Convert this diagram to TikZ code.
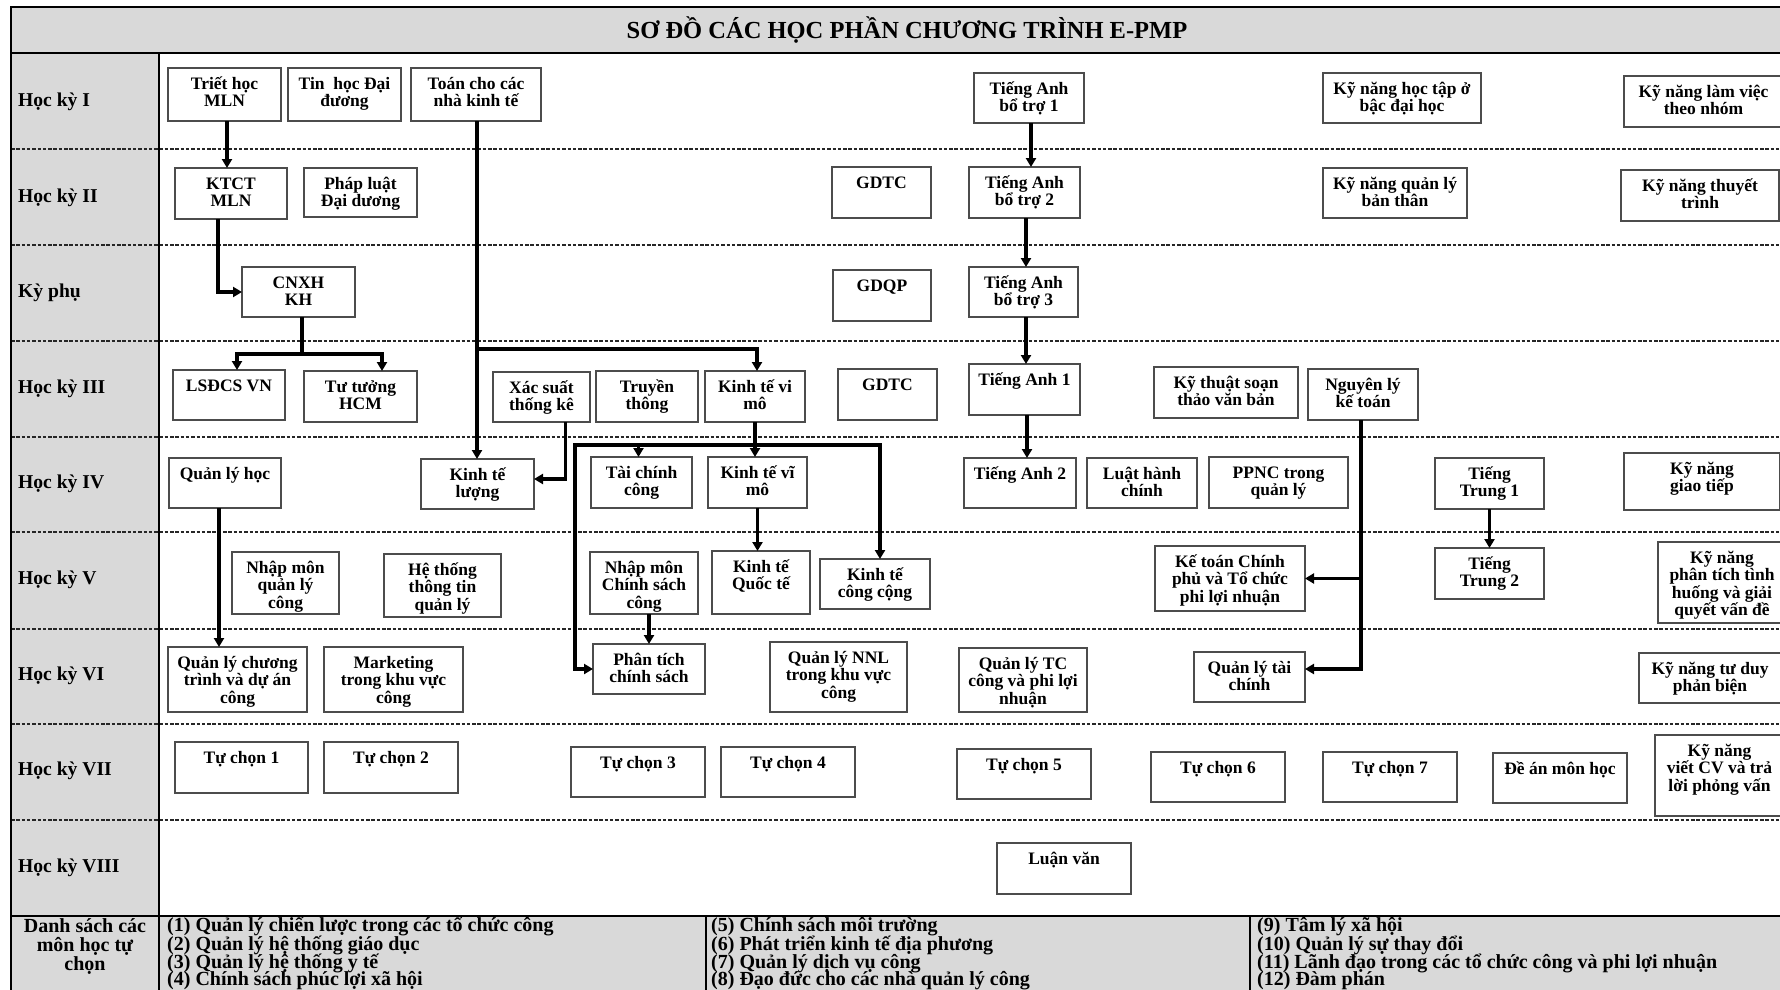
\documentclass[tikz,border=0pt]{standalone}
\usepackage{fontspec}
\setmainfont{Liberation Serif}
\usetikzlibrary{arrows.meta,calc}
\definecolor{bandgray}{RGB}{217,217,217}
\newcommand\boxfont{\fontsize{17.5}{17.5}\selectfont\bfseries\lineskiplimit=-50pt}
\newcommand\lblfont{\fontsize{19.6}{20}\selectfont\bfseries}
\newcommand\footfont{\fontsize{20}{19}\selectfont\bfseries}
\newcommand\titlefont{\fontsize{24.5}{26}\selectfont\bfseries}
\tikzset{
 cbx/.style={draw=black!70, line width=1.1pt, fill=white, inner sep=0pt, outer sep=0pt},
 ctxt/.style={inner sep=0pt, align=center, font=\boxfont},
 conn/.style={line width=3.2pt, draw=black},
 arr/.style={conn, -{Triangle[length=9pt,width=10pt]}},
 rowsep/.style={line width=1.2pt, draw=black!85, dash pattern=on 3.5pt off 1.8pt},
 rowlbl/.style={inner sep=0pt, anchor=base west, font=\lblfont},
 foot/.style={inner sep=0pt, anchor=base west, font=\footfont},
 footc/.style={inner sep=0pt, anchor=base, font=\footfont},
 frame/.style={line width=2.4pt, draw=black},
}
\newcommand\cbox[6]{%
 \node[cbx, anchor=north west, minimum width={(#4-#2)*1pt}, minimum height={(#5-#3)*1pt}] (#1) at (#2,#3) {};
 \node[ctxt, anchor=north] at ([yshift=-3pt]#1.north) {\rule{0pt}{18pt}#6};
}
\begin{document}
\begin{tikzpicture}[x=1pt,y=-1pt]
\useasboundingbox (0,0) rectangle (1780,990);
\clip (0,0) rectangle (1780,990);
% backgrounds
\fill[white] (0,0) rectangle (1780,990);
\fill[bandgray] (11,7) rectangle (1800,53);
\fill[bandgray] (11,53) rectangle (159,916);
\fill[bandgray] (11,916) rectangle (1800,1000);
% row separators
\foreach \yy in {149,245,341,437,532,629,724,820}
  \draw[rowsep] (11,\yy) -- (1800,\yy);
% frame
\draw[frame] (11,1000) -- (11,7) -- (1800,7);
\draw[frame, line width=2pt] (11,53) -- (1800,53);
\draw[frame, line width=2pt] (159,53) -- (159,1000);
\draw[frame, line width=2pt] (11,916) -- (1800,916);
\draw[frame, line width=1.6pt] (706,916) -- (706,1000);
\draw[frame, line width=1.6pt] (1250,916) -- (1250,1000);
% title
\node[font=\titlefont, anchor=base, inner sep=0pt] (title) at (907,39) {SƠ ĐỒ CÁC HỌC PHẦN CHƯƠNG TRÌNH E-PMP};
% row labels
\node[rowlbl] (r1) at (18,106) {Học kỳ I};
\node[rowlbl] (r2) at (18,202) {Học kỳ II};
\node[rowlbl] (r3) at (18,297) {Kỳ phụ};
\node[rowlbl] (r4) at (18,393) {Học kỳ III};
\node[rowlbl] (r5) at (18,488) {Học kỳ IV};
\node[rowlbl] (r6) at (18,584) {Học kỳ V};
\node[rowlbl] (r7) at (18,680) {Học kỳ VI};
\node[rowlbl] (r8) at (18,775) {Học kỳ VII};
\node[rowlbl] (r9) at (18,872) {Học kỳ VIII};
% footer
\node[footc] (fl1) at (85,932) {Danh sách các};
\node[footc] (fl2) at (85,951) {môn học tự};
\node[footc] (fl3) at (85,970) {chọn};
\node[foot] (f1) at (167,931.5) {(1) Quản lý chiến lược trong các tổ chức công};
\node[foot] (f2) at (167,950) {(2) Quản lý hệ thống giáo dục};
\node[foot] (f3) at (167,968.5) {(3) Quản lý hệ thống y tế};
\node[foot] (f4) at (167,985.5) {(4) Chính sách phúc lợi xã hội};
\node[foot] (f5) at (711,931.5) {(5) Chính sách môi trường};
\node[foot] (f6) at (711,950) {(6) Phát triển kinh tế địa phương};
\node[foot] (f7) at (711,968.5) {(7) Quản lý dịch vụ công};
\node[foot] (f8) at (711,985.5) {(8) Đạo đức cho các nhà quản lý công};
\node[foot] (f9) at (1257,931.5) {(9) Tâm lý xã hội};
\node[foot] (f10) at (1257,950) {(10) Quản lý sự thay đổi};
\node[foot] (f11) at (1257,968.5) {(11) Lãnh đạo trong các tổ chức công và phi lợi nhuận};
\node[foot] (f12) at (1257,985.5) {(12) Đàm phán};
% Row I
\cbox{triet}{168}{68}{281}{121}{Triết học\\MLN}
\cbox{tinhoc}{288}{68}{401}{121}{Tin~ học Đại\\đương}
\cbox{toan}{411}{68}{541}{121}{Toán cho các\\nhà kinh tế}
\cbox{tabt1}{974}{73}{1084}{123}{Tiếng Anh\\bổ trợ 1}
\cbox{kn1}{1323}{73}{1481}{123}{Kỹ năng học tập ở\\bậc đại học}
\cbox{kn2}{1624}{76}{1783}{127}{Kỹ năng làm việc\\theo nhóm}
% Row II
\cbox{ktct}{175}{168}{287}{219}{KTCT\\MLN}
\cbox{phapluat}{304}{168}{417}{217}{Pháp luật\\Đại dương}
\cbox{gdtc1}{832}{167}{931}{218}{GDTC}
\cbox{tabt2}{969}{167}{1080}{218}{Tiếng Anh\\bổ trợ 2}
\cbox{kn3}{1323}{168}{1467}{218}{Kỹ năng quản lý\\bản thân}
\cbox{kn4}{1621}{170}{1779}{221}{Kỹ năng thuyết\\trình}
% Ky phu
\cbox{cnxh}{242}{267}{355}{317}{CNXH\\KH}
\cbox{gdqp}{833}{270}{931}{321}{GDQP}
\cbox{tabt3}{969}{267}{1078}{317}{Tiếng Anh\\bổ trợ 3}
% Row III
\cbox{lsdcs}{173}{370}{285}{420}{LSĐCS VN}
\cbox{tthcm}{304}{371}{417}{422}{Tư tưởng\\HCM}
\cbox{xstk}{493}{372}{590}{422}{Xác suất\\thống kê}
\cbox{truyen}{596}{371}{698}{422}{Truyền\\thông}
\cbox{vimo}{705}{371}{805}{422}{Kinh tế vi\\mô}
\cbox{gdtc2}{838}{369}{937}{420}{GDTC}
\cbox{ta1}{969}{364}{1080}{415}{Tiếng Anh 1}
\cbox{ktsvb}{1154}{367}{1298}{418}{Kỹ thuật soạn\\thảo văn bản}
\cbox{nlkt}{1308}{369}{1418}{420}{Nguyên lý\\kế toán}
% Row IV
\cbox{qlh}{169}{458}{281}{508}{Quản lý học}
\cbox{ktl}{421}{459}{534}{509}{Kinh tế\\lượng}
\cbox{tcc}{591}{457}{692}{508}{Tài chính\\công}
\cbox{vimo4}{708}{457}{807}{508}{Kinh tế vĩ\\mô}
\cbox{ta2}{964}{458}{1076}{508}{Tiếng Anh 2}
\cbox{lhc}{1087}{458}{1197}{508}{Luật hành\\chính}
\cbox{ppnc}{1209}{457}{1348}{508}{PPNC trong\\quản lý}
\cbox{tt1}{1435}{458}{1544}{509}{Tiếng\\Trung 1}
\cbox{kn5}{1624}{453}{1780}{510}{Kỹ năng\\giao tiếp}
% Row V
\cbox{nmqlc}{232}{552}{339}{614}{Nhập môn\\quản lý\\công}
\cbox{httt}{384}{554}{501}{617}{Hệ thống\\thông tin\\quản lý}
\cbox{nmcs}{590}{552}{698}{614}{Nhập môn\\Chính sách\\công}
\cbox{ktqt}{712}{551}{810}{614}{Kinh tế\\Quốc tế}
\cbox{ktcc}{820}{559}{930}{609}{Kinh tế\\công cộng}
\cbox{ktcp}{1155}{546}{1305}{611}{Kế toán Chính\\phủ và Tổ chức\\phi lợi nhuận}
\cbox{tt2}{1435}{548}{1544}{599}{Tiếng\\Trung 2}
\cbox{kn6}{1658}{542}{1786}{623}{Kỹ năng\\phân tích tình\\huống và giải\\quyết vấn đề}
% Row VI
\cbox{qlct}{168}{647}{307}{712}{Quản lý chương\\trình và dự án\\công}
\cbox{mkt}{324}{647}{463}{712}{Marketing\\trong khu vực\\công}
\cbox{ptcs}{593}{644}{705}{694}{Phân tích\\chính sách}
\cbox{nnl}{770}{642}{907}{712}{Quản lý NNL\\trong khu vực\\công}
\cbox{qltcc}{959}{648}{1087}{712}{Quản lý TC\\công và phi lợi\\nhuận}
\cbox{qltc}{1194}{652}{1305}{702}{Quản lý tài\\chính}
\cbox{kn7}{1639}{653}{1781}{703}{Kỹ năng tư duy\\phản biện}
% Row VII
\cbox{tc1}{175}{742}{308}{793}{Tự chọn 1}
\cbox{tc2}{324}{742}{458}{793}{Tự chọn 2}
\cbox{tc3}{571}{747}{705}{797}{Tự chọn 3}
\cbox{tc4}{721}{747}{855}{797}{Tự chọn 4}
\cbox{tc5}{957}{749}{1091}{799}{Tự chọn 5}
\cbox{tc6}{1151}{752}{1285}{802}{Tự chọn 6}
\cbox{tc7}{1323}{752}{1457}{802}{Tự chọn 7}
\cbox{dean}{1493}{753}{1627}{803}{Đề án môn học}
\cbox{kn8}{1655}{735}{1784}{816}{Kỹ năng\\viết CV và trả\\lời phỏng vấn}
% Row VIII
\cbox{luanvan}{997}{843}{1131}{894}{Luận văn}
% connectors
\draw[arr] ([xshift=2.5pt]triet.south) -- ([xshift=2.5pt]triet.south |- ktct.north);
\draw[arr] ([xshift=-13pt]ktct.south) |- (cnxh.west);
\coordinate (jc) at ([xshift=3.5pt,yshift=-37pt]cnxh.south);
\draw[conn] ([xshift=3.5pt]cnxh.south) -- (jc);
\draw[arr] (jc) -| ([xshift=8pt]lsdcs.north);
\draw[arr] (jc) -| ([xshift=21.5pt]tthcm.north);
\draw[arr] ([xshift=1pt]toan.south) -- ([xshift=1pt]toan.south |- ktl.north);
\coordinate (y349) at (0,349);
\coordinate (jt) at ([xshift=1pt]toan.south |- y349);
\draw[arr] (jt) -| ([xshift=2pt]vimo.north);
\draw[arr] ([xshift=24pt]xstk.south) |- ([yshift=5pt]ktl.east);
\draw[arr] (vimo.south) -- (vimo.south |- vimo4.north);
\coordinate (bl) at (575,445);
\coordinate (br) at (880,445);
\draw[arr] (bl) -- (br) -- (br |- ktcc.north);
\draw[arr] (br) -- (bl) |- (ptcs.west);
\coordinate (tcin) at ([xshift=-3pt]tcc.north);
\draw[arr] (tcin |- bl) -- (tcin);
\draw[arr] (vimo4.south) -- (vimo4.south |- ktqt.north);
\draw[arr] ([xshift=-6pt]qlh.south) -- ([xshift=-6pt]qlh.south |- qlct.north);
\draw[arr] (ptcs.north |- nmcs.south) -- (ptcs.north);
\draw[arr] ([xshift=2pt]tabt1.south) -- ([xshift=2pt]tabt1.south |- tabt2.north);
\draw[arr] ([xshift=1.5pt]tabt2.south) -- ([xshift=1.5pt]tabt2.south |- tabt3.north);
\draw[arr] ([xshift=2.5pt]tabt3.south) -- ([xshift=2.5pt]tabt3.south |- ta1.north);
\draw[arr] ([xshift=2.5pt]ta1.south) -- ([xshift=2.5pt]ta1.south |- ta2.north);
\coordinate (nl) at ([xshift=-2pt]nlkt.south);
\draw[arr] (nl) |- ([yshift=8pt]qltc.east);
\draw[arr] (nl |- ktcp.east) -- (ktcp.east);
\draw[arr] (tt1.south) -- (tt1.south |- tt2.north);
\end{tikzpicture}
\end{document}
